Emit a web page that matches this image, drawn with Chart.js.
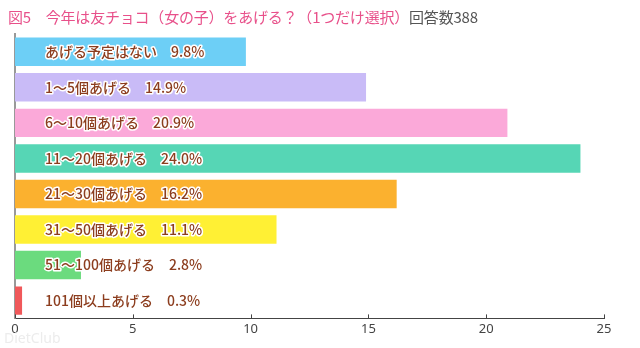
<!DOCTYPE html>
<html>
<head>
<meta charset="utf-8">
<script src="https://cdn.jsdelivr.net/npm/chart.js@4/dist/chart.umd.min.js"></script>
<style>
  html, body { margin: 0; padding: 0; background: #fff; }
  #wrap { position: relative; width: 640px; height: 348px; }
  #title { position: absolute; left: 8px; top: 6px; font-family: "Noto Sans CJK JP", sans-serif; font-size: 15px; color: #e8508a; white-space: nowrap; letter-spacing: -0.2px; }
  #title .n { color: #555; }
  #wm { position: absolute; left: 4px; top: 328px; font-family: "Noto Sans", sans-serif; font-size: 14px; color: #ececec; }
  canvas { position: absolute; left: 0; top: 0; }
</style>
</head>
<body>
<div id="wrap">
  <canvas id="c" width="640" height="348"></canvas>
  <div id="title">図5　今年は友チョコ（女の子）をあげる？（1つだけ選択）<span class="n">回答数388</span></div>
  <div id="wm">DietClub</div>
</div>
<script>
const categories = ["あげる予定はない", "1〜5個あげる", "6〜10個あげる", "11〜20個あげる", "21〜30個あげる", "31〜50個あげる", "51〜100個あげる", "101個以上あげる"];
const values = [9.8, 14.9, 20.9, 24.0, 16.2, 11.1, 2.8, 0.3];
const xTicks = [0, 5, 10, 15, 20, 25];
const barColors = ["#6dcff6", "#c9bbf7", "#fba9d9", "#56d6b5", "#fbb12f", "#fff034", "#6bdb7e", "#f0585a"];

const labelPlugin = {
  id: 'inBarLabels',
  afterDatasetsDraw(chart) {
    const ctx = chart.ctx;
    const meta = chart.getDatasetMeta(0);
    const xs = chart.scales.x;
    ctx.save();
    ctx.font = '500 14px "Noto Sans CJK JP", sans-serif';
    ctx.textBaseline = 'middle';
    ctx.textAlign = 'left';
    ctx.lineJoin = 'round';
    meta.data.forEach((bar, i) => {
      const txt = categories[i] + '　' + values[i].toFixed(1) + '%';
      const x = xs.left + 30;
      const y = bar.y;
      ctx.strokeStyle = '#ffffff';
      ctx.lineWidth = 3;
      ctx.strokeText(txt, x, y);
      ctx.fillStyle = '#8c3d1e';
      ctx.fillText(txt, x, y);
    });
    ctx.strokeStyle = '#444';
    ctx.lineWidth = 1;
    xTicks.forEach(v => {
      const px = Math.round(xs.getPixelForValue(v)) + 0.5;
      ctx.beginPath();
      ctx.moveTo(px, xs.top);
      ctx.lineTo(px, xs.top - 4);
      ctx.stroke();
    });
    ctx.restore();
  }
};

new Chart(document.getElementById('c'), {
  type: 'bar',
  data: {
    labels: categories,
    datasets: [{
      data: values,
      backgroundColor: barColors,
      borderWidth: 0,
      barPercentage: 0.8,
      categoryPercentage: 1.0
    }]
  },
  options: {
    indexAxis: 'y',
    responsive: false,
    animation: false,
    layout: { padding: { left: 15, right: 36, top: 34, bottom: 8 } },
    plugins: { legend: { display: false }, tooltip: { enabled: false } },
    scales: {
      x: {
        min: 0, max: 25,
        afterBuildTicks: (s) => { s.ticks = xTicks.map(v => ({ value: v })); },
        grid: { display: false, drawTicks: false },
        border: { display: true, color: '#444', width: 1 },
        ticks: { color: '#444', padding: 3, font: { family: '"Noto Sans", sans-serif', size: 13 } }
      },
      y: {
        grid: { display: false, drawTicks: false },
        border: { display: true, color: '#999', width: 2 },
        ticks: { display: false }
      }
    }
  },
  plugins: [labelPlugin]
});
</script>
</body>
</html>
